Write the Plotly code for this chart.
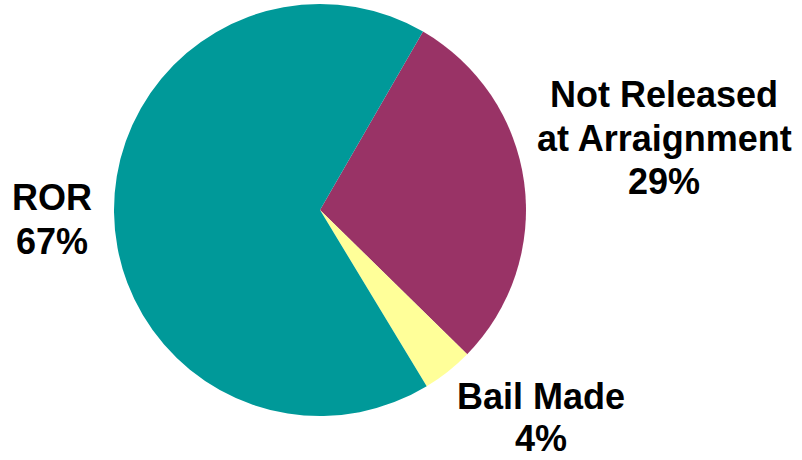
import plotly.graph_objects as go

# Release outcome at arraignment
labels = ["Not Released at Arraignment", "Bail Made", "ROR"]
label_lines = [["Not Released", "at Arraignment"], ["Bail Made"], ["ROR"]]
values = [29, 4, 67]
colors = ["#993366", "#FFFF99", "#009999"]

W, H = 802, 460

# label block placement in pixels: centre x, centre of first text line, line step
label_cx = [664, 541, 52]
label_top = [94, 396, 198]
line_step = 44

fig = go.Figure(
    go.Pie(
        labels=labels,
        values=values,
        marker=dict(colors=colors, line=dict(width=0)),
        sort=False,
        direction="clockwise",
        rotation=30,
        textinfo="none",
        hoverinfo="label+percent",
        showlegend=False,
        domain=dict(x=[112 / W, 528 / W], y=[(H - 416) / H, (H - 4) / H]),
    )
)

total = sum(values)
font = dict(family="Liberation Sans, Arial, sans-serif", size=36, color="black")
for lines, v, cx, cy in zip(label_lines, values, label_cx, label_top):
    rows = lines + [f"{round(100 * v / total)}%"]
    for i, row in enumerate(rows):
        yc = min(cy + i * line_step, 438)  # keep the lowest line inside the page
        fig.add_annotation(
            x=cx / W, y=1 - yc / H,
            xref="paper", yref="paper",
            text=f"<b>{row}</b>",
            showarrow=False, xanchor="center", yanchor="middle", align="center",
            font=font,
        )

fig.update_layout(
    width=W, height=H,
    margin=dict(l=0, r=0, t=0, b=0),
    paper_bgcolor="white", plot_bgcolor="white",
)

fig.write_html("out.html")
